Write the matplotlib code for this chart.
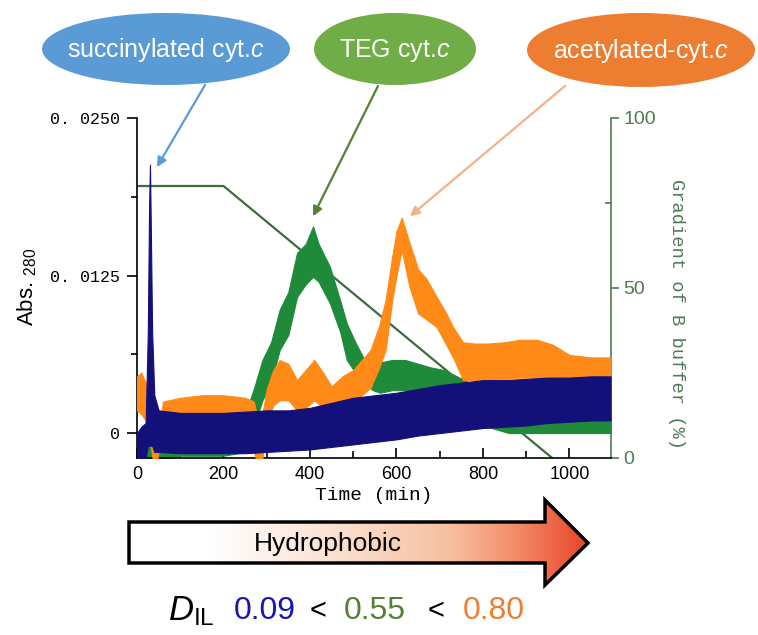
import matplotlib
matplotlib.use("Agg")
import matplotlib.pyplot as plt
import numpy as np
from matplotlib import font_manager
from matplotlib.patches import Ellipse, Polygon
from matplotlib.colors import LinearSegmentedColormap

# ---- data (upper / lower edge of each noisy trace) ----
navy_t = [0, 10, 20, 25, 28, 30, 32, 35, 40, 50, 100, 150, 200, 250, 300, 350, 400, 450, 500, 550,
          600, 650, 700, 750, 800, 850, 900, 950, 1000, 1050, 1095]
navy_hi = [0.0000, 0.0005, 0.0008, 0.008, 0.018, 0.0213, 0.016, 0.008, 0.003, 0.0018,
           0.0016, 0.0016, 0.0016, 0.0017, 0.0018, 0.0018, 0.0020, 0.0024, 0.0028, 0.0030,
           0.0032, 0.0035, 0.0038, 0.0040, 0.0042, 0.0042, 0.0043, 0.0044, 0.0044, 0.0045, 0.0045]
navy_lo = [-0.0025, -0.0025, -0.002, -0.001, -0.001, -0.001, -0.001, -0.001, -0.0015, -0.0015,
           -0.0016, -0.0016, -0.0016, -0.0016, -0.0015, -0.0014, -0.0013, -0.0011, -0.0009, -0.0007,
           -0.0005, -0.0002, 0.0000, 0.0002, 0.0004, 0.0005, 0.0006, 0.0008, 0.0009, 0.0010, 0.0010]

green_t = [0, 20, 30, 35, 45, 100, 200, 250, 270, 290, 310, 330, 350, 370, 390, 407, 420, 446, 470, 485,
           505, 523, 545, 562, 590, 620, 650, 680, 710, 740, 780, 820, 860, 900, 950, 1000, 1050, 1095]
green_hi = [-0.001, -0.001, 0.005, 0.002, 0.0, 0.0005, 0.0008, 0.0015, 0.0035, 0.0058,
            0.0072, 0.0098, 0.0112, 0.0143, 0.0150, 0.0164, 0.0150, 0.0132, 0.0105, 0.0087,
            0.0072, 0.0060, 0.0056, 0.0056, 0.0058, 0.0058, 0.0055, 0.0052, 0.0050, 0.0045,
            0.0038, 0.0030, 0.0026, 0.0024, 0.0022, 0.0020, 0.0018, 0.0016]
green_lo = [-0.0025, -0.0025, -0.002, -0.0025, -0.0022, -0.0018, -0.0018, -0.0015, 0.0005, 0.0026,
            0.0040, 0.0066, 0.0078, 0.0108, 0.0118, 0.0124, 0.0120, 0.0103, 0.0080, 0.0058,
            0.0048, 0.0040, 0.0034, 0.0032, 0.0034, 0.0034, 0.0030, 0.0022, 0.0016, 0.0012,
            0.0008, 0.0004, 0.0, 0.0, 0.0, 0.0, 0.0, 0.0]

orange_t = [0, 10, 20, 30, 38, 45, 60, 100, 150, 200, 250, 270, 280, 290, 300, 315, 330, 350, 370, 390,
            410, 430, 450, 475, 500, 520, 540, 560, 575, 590, 600, 612, 630, 650, 670, 693, 715, 731, 754, 780,
            810, 850, 885, 925, 962, 1000, 1050, 1095]
orange_hi = [0.0045, 0.0048, 0.0040, 0.0030, 0.0005, -0.001, 0.0025, 0.0028, 0.0030, 0.0030,
             0.0028, 0.0025, 0.0010, 0.0015, 0.0035, 0.0050, 0.0058, 0.0055, 0.0042, 0.0050,
             0.0058, 0.0048, 0.0037, 0.0045, 0.0050, 0.0058, 0.0066, 0.0085, 0.0106, 0.0140,
             0.0160, 0.0171, 0.0151, 0.0130, 0.0122, 0.0108, 0.0095, 0.0084, 0.0072, 0.0071,
             0.0071, 0.0072, 0.0074, 0.0074, 0.0070, 0.0062, 0.0060, 0.0060]
orange_lo = [0.0018, 0.0015, 0.0010, -0.0005, -0.0025, -0.0025, 0.0005, 0.0008, 0.0008, 0.0008,
             0.0006, -0.0015, -0.0025, -0.0020, 0.0008, 0.0022, 0.0026, 0.0026, 0.0018, 0.0020,
             0.0026, 0.0020, 0.0016, 0.0020, 0.0026, 0.0030, 0.0036, 0.0052, 0.0066, 0.0105,
             0.0125, 0.0145, 0.0116, 0.0095, 0.0090, 0.0084, 0.0070, 0.0060, 0.0042, 0.0042,
             0.0042, 0.0043, 0.0044, 0.0044, 0.0042, 0.0040, 0.0040, 0.0040]

grad_t = [0, 200, 960]
grad_b = [80, 80, 0]

x_ticks = [0, 200, 400, 600, 800, 1000]
y_ticks = [0, 0.0125, 0.025]
y_ticklabels = ["0", "0. 0125", "0. 0250"]
y2_ticks = [0, 50, 100]

labels = ["succinylated cyt.", "TEG cyt.", "acetylated-cyt."]
d_values = ["0.09", "0.55", "0.80"]

# ---- fonts ----
installed = {f.name for f in font_manager.fontManager.ttflist}
narrow = "Liberation Sans Narrow" if "Liberation Sans Narrow" in installed else "Liberation Sans"
mono = "Liberation Mono"
plt.rcParams["font.family"] = ["Liberation Sans", "DejaVu Sans"]
plt.rcParams["mathtext.fontset"] = "custom"
plt.rcParams["mathtext.rm"] = "Liberation Sans"
plt.rcParams["mathtext.it"] = "Liberation Sans:italic"

NAVY = "#14107a"
GREEN = "#1f8a3a"
ORANGE = "#ff8a17"
GRAD = "#3d6b3d"
AXG = "#4f7a55"

fig = plt.figure(figsize=(7.58, 6.35), dpi=100)
ax = fig.add_axes([137 / 758, 177 / 635, 474 / 758, 340 / 635])

ax.fill_between(green_t, green_lo, green_hi, color=GREEN, lw=0.8, zorder=2)
ax.fill_between(orange_t, orange_lo, orange_hi, color=ORANGE, lw=0.8, zorder=3)
ax.fill_between(navy_t, navy_lo, navy_hi, color=NAVY, lw=0.8, zorder=4)

ax.set_xlim(0, 1096)
ax.set_ylim(-0.00198, 0.025)
ax.spines["top"].set_visible(False)
ax.spines["right"].set_visible(False)
ax.spines["left"].set_linewidth(1.2)
ax.spines["bottom"].set_linewidth(1.2)

ax.set_xticks(x_ticks)
ax.set_xticklabels([str(v) for v in x_ticks], fontsize=13, family=narrow)
ax.set_xticks([100, 300, 500, 700, 900], minor=True)
ax.tick_params(axis="x", which="major", direction="in", length=7, width=1.2, pad=6)
ax.tick_params(axis="x", which="minor", direction="in", length=5, width=1.2)

ax.set_yticks(y_ticks)
ax.set_yticklabels(y_ticklabels, fontsize=12, family=mono)
ax.set_yticks([0.00625, 0.01875], minor=True)
ax.tick_params(axis="y", which="major", direction="out", length=7, width=1.2, pad=5)
ax.tick_params(axis="y", which="minor", direction="out", length=4, width=1.2)
ax.set_xlabel("Time (min)", fontsize=14, family=mono, labelpad=3)

ax2 = ax.twinx()
ax2.plot(grad_t, grad_b, color=GRAD, lw=1.6, zorder=1)
ax2.set_ylim(0, 100)
ax2.set_yticks(y2_ticks)
ax2.set_yticklabels([str(v) for v in y2_ticks], fontsize=14, family=narrow, color=AXG)
ax2.set_yticks([25, 75], minor=True)
ax2.tick_params(axis="y", which="major", direction="out", length=6, width=1.2, color=AXG, pad=3)
ax2.tick_params(axis="y", which="minor", direction="in", length=4, width=1.2, color=AXG)
for s in ["top", "left", "bottom"]:
    ax2.spines[s].set_visible(False)
ax2.spines["right"].set_color(AXG)
ax2.spines["right"].set_linewidth(1.2)
ax.set_zorder(ax2.get_zorder() + 1)
ax.patch.set_visible(False)

# ---- overlay in pixel coordinates for the decorations ----
ov = fig.add_axes([0, 0, 1, 1], zorder=10)
ov.set_xlim(0, 758)
ov.set_ylim(635, 0)
ov.axis("off")
ov.patch.set_visible(False)

ov.text(27, 287, "Abs. $_{280}$", rotation=90, ha="center", va="center", fontsize=16)
ov.text(676, 314, "Gradient of B buffer (%)", rotation=-90, ha="center", va="center",
        fontsize=13.5, family=mono, color=AXG)

bubbles = [(166, 49, 248, 72, "#5b9bd5"), (395, 49, 162, 72, "#70ad47"), (641, 50, 228, 74, "#ed7d31")]
tips = [(46, 0.0211), (407, 0.0172), (631, 0.0172)]
starts = [(205, 85), (378, 86), (565, 86)]
arrow_cols = ["#5b9bd5", "#548235", "#f4b183"]
for (cx, cy, w, h, c), lab, tip, st, ac in zip(bubbles, labels, tips, starts, arrow_cols):
    ov.add_patch(Ellipse((cx, cy), w, h, facecolor=c, edgecolor="none"))
    ov.text(cx, cy + 1, lab + "$\\it{c}$", ha="center", va="center", color="white",
            fontsize=18, family=narrow)
    ax.annotate("", xy=tip, xycoords="data", xytext=st, textcoords=ov.transData,
                arrowprops=dict(arrowstyle="-|>", color=ac, lw=1.6, mutation_scale=14,
                                shrinkA=0, shrinkB=0), zorder=20)

# big "Hydrophobic" arrow with white->red gradient
verts = [(129, 522), (545, 522), (545, 500), (588, 543), (545, 585), (545, 563), (129, 563)]
cmap = LinearSegmentedColormap.from_list(
    "hyd", [(0, "#ffffff"), (0.18, "#ffffff"), (0.45, "#fbe0d0"), (0.7, "#f7c0a0"),
            (0.85, "#f28a66"), (1.0, "#e8452a")])
grad_img = np.linspace(0, 1, 256).reshape(1, -1)
im = ov.imshow(grad_img, cmap=cmap, extent=[129, 588, 585, 500], aspect="auto", zorder=1)
arrow_poly = Polygon(verts, closed=True, facecolor="none", edgecolor="black", lw=2.5,
                     joinstyle="miter", zorder=2)
ov.add_patch(arrow_poly)
im.set_clip_path(arrow_poly)
ov.set_xlim(0, 758)
ov.set_ylim(635, 0)
ov.text(328, 544, "Hydrophobic", ha="center", va="center", fontsize=19, zorder=3)

# D_IL values
ov.text(168, 611, r"$D_{\mathrm{IL}}$", ha="left", va="center", fontsize=25)
d_cols = ["#1616b4", "#548235", "#ed7d31"]
d_x = [265, 375, 494]
for v, c, xx in zip(d_values, d_cols, d_x):
    ov.text(xx, 611, v, ha="center", va="center", fontsize=23, color=c)
ov.text(318, 611, "<", ha="center", va="center", fontsize=21)
ov.text(436, 611, "<", ha="center", va="center", fontsize=21)

fig.savefig("out.png", dpi=100)
